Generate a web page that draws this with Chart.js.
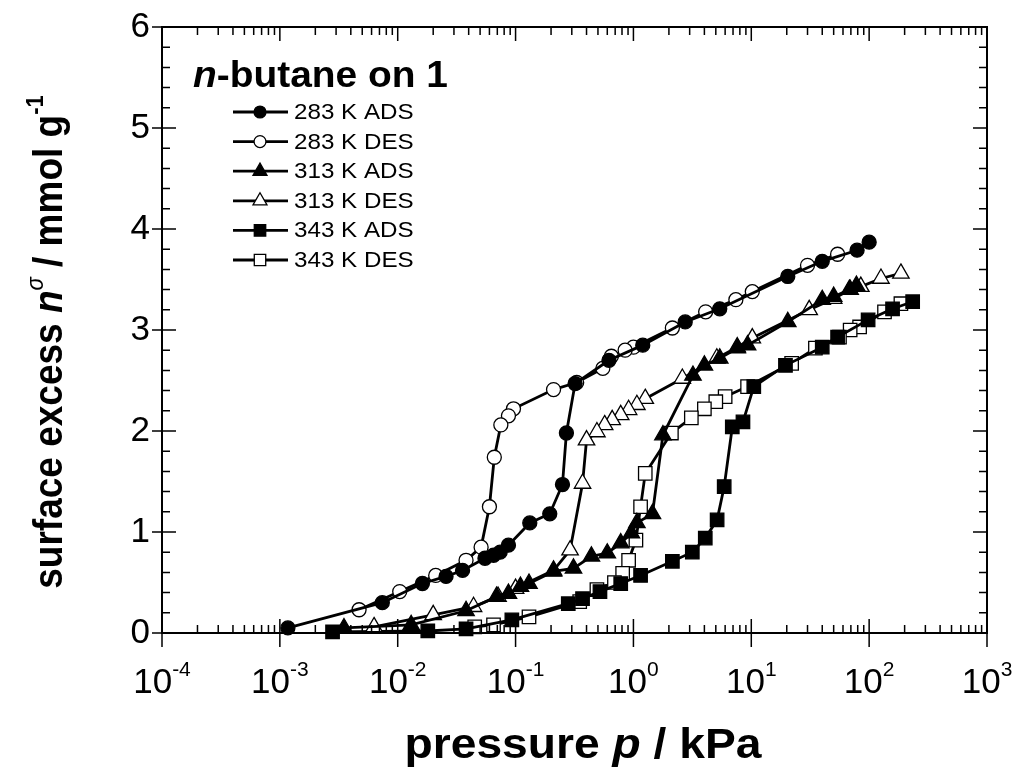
<!DOCTYPE html>
<html>
<head>
<meta charset="utf-8">
<script src="https://cdn.jsdelivr.net/npm/chart.js@4.4.1/dist/chart.umd.min.js"></script>
<style>
html,body{margin:0;padding:0;background:#ffffff;}
</style>
</head>
<body>
<canvas id="graficoIsotermas" width="1015" height="771"></canvas>
<script>
// presion p / kPa  -  exceso superficial / mmol g-1
const p283Ads = [0.00117, 0.0074, 0.0162, 0.0257, 0.0355, 0.055, 0.065, 0.074, 0.087, 0.132, 0.195, 0.25, 0.27, 0.32, 0.62, 1.2, 2.75, 5.4, 20.4, 40, 79, 100];
const n283Ads = [0.05, 0.30, 0.49, 0.56, 0.62, 0.74, 0.77, 0.80, 0.87, 1.09, 1.18, 1.47, 1.98, 2.47, 2.70, 2.85, 3.08, 3.21, 3.53, 3.68, 3.79, 3.87];

const p283Des = [54, 30, 10.2, 7.4, 4.1, 2.14, 1.0, 0.85, 0.65, 0.55, 0.33, 0.21, 0.096, 0.087, 0.075, 0.066, 0.060, 0.051, 0.038, 0.021, 0.0104, 0.0047];
const n283Des = [3.75, 3.64, 3.38, 3.30, 3.18, 3.02, 2.83, 2.80, 2.74, 2.62, 2.48, 2.41, 2.22, 2.15, 2.06, 1.74, 1.25, 0.85, 0.72, 0.57, 0.41, 0.23];

const p313Ads = [0.0035, 0.013, 0.038, 0.069, 0.087, 0.11, 0.13, 0.21, 0.31, 0.44, 0.60, 0.78, 0.96, 1.07, 1.45, 1.78, 3.2, 4.0, 5.4, 7.6, 9.3, 20.4, 40, 50, 68, 78];
const n313Ads = [0.05, 0.08, 0.22, 0.36, 0.39, 0.46, 0.49, 0.61, 0.64, 0.76, 0.79, 0.89, 0.99, 1.09, 1.18, 1.96, 2.55, 2.65, 2.72, 2.82, 2.85, 3.08, 3.30, 3.33, 3.40, 3.44];

const p313Des = [186, 126, 85, 69, 50, 31, 10.2, 7.6, 5.1, 2.6, 1.26, 1.07, 0.91, 0.78, 0.66, 0.57, 0.49, 0.40, 0.37, 0.29, 0.21, 0.10, 0.071, 0.044, 0.020, 0.0063];
const n313Des = [3.56, 3.51, 3.43, 3.40, 3.31, 3.20, 2.92, 2.83, 2.72, 2.52, 2.32, 2.26, 2.21, 2.16, 2.11, 2.06, 1.99, 1.91, 1.48, 0.82, 0.62, 0.44, 0.36, 0.26, 0.18, 0.06];

const p343Ads = [0.0028, 0.018, 0.038, 0.093, 0.28, 0.37, 0.52, 0.78, 1.15, 2.14, 3.16, 4.07, 5.13, 5.89, 6.9, 8.5, 10.5, 19.5, 40, 54, 98, 158, 234];
const n343Ads = [0.01, 0.02, 0.04, 0.13, 0.29, 0.34, 0.41, 0.49, 0.57, 0.71, 0.80, 0.94, 1.12, 1.45, 2.04, 2.09, 2.44, 2.65, 2.83, 2.93, 3.10, 3.21, 3.28];

const p343Des = [186, 135, 83, 69, 56, 35, 22, 9.3, 6.0, 5.0, 4.0, 3.1, 2.1, 1.26, 1.15, 1.05, 0.91, 0.81, 0.69, 0.49, 0.35, 0.13, 0.065, 0.045];
const n343Des = [3.26, 3.18, 3.03, 3.00, 2.93, 2.82, 2.67, 2.44, 2.34, 2.29, 2.22, 2.13, 1.98, 1.58, 1.25, 0.92, 0.72, 0.59, 0.50, 0.43, 0.31, 0.16, 0.08, 0.06];

const etiquetas = ['283 K ADS', '283 K DES', '313 K ADS', '313 K DES', '343 K ADS', '343 K DES'];
const decadasX = [-4, -3, -2, -1, 0, 1, 2, 3];
const ticksY = [0, 1, 2, 3, 4, 5, 6];

const fuente = '"Liberation Sans", Arial, sans-serif';

function puntos(px, py){
    return px.map((v, i) => ({x: v, y: py[i]}));
}

function serie(label, px, py, estilo, relleno, radio){
    return {
        label: label,
        data: puntos(px, py),
        showLine: true,
        borderColor: '#000000',
        borderWidth: 2.8,
        tension: 0,
        pointStyle: estilo,
        pointRadius: radio,
        pointBackgroundColor: relleno,
        pointBorderColor: '#000000',
        pointBorderWidth: 1.3,
        clip: false
    };
}

const datasets = [
    serie(etiquetas[0], p283Ads, n283Ads, 'circle', '#000000', 7),
    serie(etiquetas[1], p283Des, n283Des, 'circle', '#ffffff', 7),
    serie(etiquetas[2], p313Ads, n313Ads, 'triangle', '#000000', 9.5),
    serie(etiquetas[3], p313Des, n313Des, 'triangle', '#ffffff', 9.5),
    serie(etiquetas[4], p343Ads, n343Ads, 'rect', '#000000', 9.5),
    serie(etiquetas[5], p343Des, n343Des, 'rect', '#ffffff', 9.5)
];

function marcador(ctx, estilo, x, y, r, relleno){
    ctx.save();
    ctx.beginPath();
    if(estilo === 'circle'){
        ctx.arc(x, y, r, 0, Math.PI * 2);
    }else if(estilo === 'triangle'){
        ctx.moveTo(x, y - r);
        ctx.lineTo(x + r * Math.sin(2 * Math.PI / 3), y - r * Math.cos(2 * Math.PI / 3));
        ctx.lineTo(x + r * Math.sin(4 * Math.PI / 3), y - r * Math.cos(4 * Math.PI / 3));
        ctx.closePath();
    }else{
        const s = r * Math.SQRT1_2;
        ctx.rect(x - s, y - s, 2 * s, 2 * s);
    }
    ctx.fillStyle = relleno;
    ctx.fill();
    ctx.lineWidth = 1.3;
    ctx.strokeStyle = '#000';
    ctx.stroke();
    ctx.restore();
}

// dibuja trozos de texto con estilos distintos en una misma linea
// (k = estiramiento horizontal, el original tiene letra algo mas ancha)
function textoMixto(ctx, trozos, x, y, alinear, k){
    k = k || 1;
    let ancho = 0;
    trozos.forEach(t => { ctx.font = t.f; ancho += ctx.measureText(t.s).width; });
    ctx.save();
    ctx.translate(x, y);
    ctx.scale(k, 1);
    let cx = alinear === 'center' ? -ancho / 2 : 0;
    trozos.forEach(t => {
        ctx.font = t.f;
        ctx.fillText(t.s, cx, (t.dy || 0));
        cx += ctx.measureText(t.s).width;
    });
    ctx.restore();
}

const ejes = {
    id: 'ejes',
    afterDraw(chart){
        const ctx = chart.ctx;
        const a = chart.chartArea;
        const sx = chart.scales.x;
        const sy = chart.scales.y;
        ctx.save();
        ctx.strokeStyle = '#000';
        ctx.fillStyle = '#000';
        ctx.lineWidth = 2;
        ctx.strokeRect(a.left, a.top, a.right - a.left, a.bottom - a.top);

        ctx.lineWidth = 1.5;
        ctx.beginPath();
        decadasX.forEach(d => {
            const xp = sx.getPixelForValue(Math.pow(10, d));
            ctx.moveTo(xp, a.bottom + 14); ctx.lineTo(xp, a.bottom - 14);
            ctx.moveTo(xp, a.top); ctx.lineTo(xp, a.top + 14);
            if(d < 3){
                for(let m = 2; m <= 9; m++){
                    const xm = sx.getPixelForValue(m * Math.pow(10, d));
                    ctx.moveTo(xm, a.bottom); ctx.lineTo(xm, a.bottom - 8);
                    ctx.moveTo(xm, a.top); ctx.lineTo(xm, a.top + 8);
                }
            }
        });
        for(let v = 0; v <= 6.001; v += 0.2){
            const yp = sy.getPixelForValue(v);
            const mayor = Math.abs(v - Math.round(v)) < 0.01;
            if(mayor){
                ctx.moveTo(a.left - 10, yp); ctx.lineTo(a.left + 14, yp);
                ctx.moveTo(a.right, yp); ctx.lineTo(a.right - 14, yp);
            }else{
                ctx.moveTo(a.left, yp); ctx.lineTo(a.left + 8, yp);
                ctx.moveTo(a.right, yp); ctx.lineTo(a.right - 8, yp);
            }
        }
        ctx.stroke();

        // etiquetas de los ejes
        ctx.textBaseline = 'alphabetic';
        decadasX.forEach(d => {
            const xp = sx.getPixelForValue(Math.pow(10, d));
            textoMixto(ctx, [
                {s: '10', f: '35px ' + fuente},
                {s: String(d), f: '21px ' + fuente, dy: -17}
            ], xp, a.bottom + 60, 'center');
        });
        ctx.textAlign = 'right';
        ctx.textBaseline = 'middle';
        ctx.font = '35px ' + fuente;
        ticksY.forEach(v => {
            ctx.fillText(String(v), a.left - 12, sy.getPixelForValue(v));
        });
        ctx.textAlign = 'left';
        ctx.textBaseline = 'alphabetic';

        textoMixto(ctx, [
            {s: 'pressure ', f: 'bold 42px ' + fuente},
            {s: 'p', f: 'italic bold 42px ' + fuente},
            {s: ' / kPa', f: 'bold 42px ' + fuente}
        ], 583, 758, 'center', 1.1);

        ctx.save();
        ctx.translate(62, 342);
        ctx.rotate(-Math.PI / 2);
        ctx.scale(1, 1.1);
        textoMixto(ctx, [
            {s: 'surface excess ', f: 'bold 37px ' + fuente},
            {s: 'n', f: 'italic bold 37px ' + fuente},
            {s: 'σ', f: 'italic 22px ' + fuente, dy: -17},
            {s: ' / mmol g', f: 'bold 37px ' + fuente},
            {s: '-1', f: 'bold 22px ' + fuente, dy: -17}
        ], 0, 0, 'center');
        ctx.restore();

        // leyenda
        textoMixto(ctx, [
            {s: 'n', f: 'italic bold 36px ' + fuente},
            {s: '-butane on 1', f: 'bold 36px ' + fuente}
        ], 193, 87, 'left', 1.08);
        ctx.textBaseline = 'middle';
        chart.data.datasets.forEach((ds, i) => {
            const yl = 112 + i * 29.6;
            ctx.beginPath();
            ctx.lineWidth = 2.8;
            ctx.moveTo(233, yl); ctx.lineTo(288, yl);
            ctx.stroke();
            marcador(ctx, ds.pointStyle, 260, yl, ds.pointRadius * 0.85, ds.pointBackgroundColor);
            ctx.fillStyle = '#000';
            textoMixto(ctx, [{s: ds.label, f: '22px ' + fuente}], 294, yl + 1, 'left', 1.1);
        });
        ctx.restore();
    }
};

new Chart(document.getElementById('graficoIsotermas'), {
    type: 'line',
    data: { datasets: datasets },
    options: {
        responsive: false,
        animation: false,
        layout: { padding: { left: 162, right: 28, top: 27, bottom: 138 } },
        plugins: { legend: { display: false }, tooltip: { enabled: false } },
        scales: {
            x: { type: 'logarithmic', min: 1e-4, max: 1e3, display: false },
            y: { type: 'linear', min: 0, max: 6, display: false }
        }
    },
    plugins: [ejes]
});
</script>
</body>
</html>
